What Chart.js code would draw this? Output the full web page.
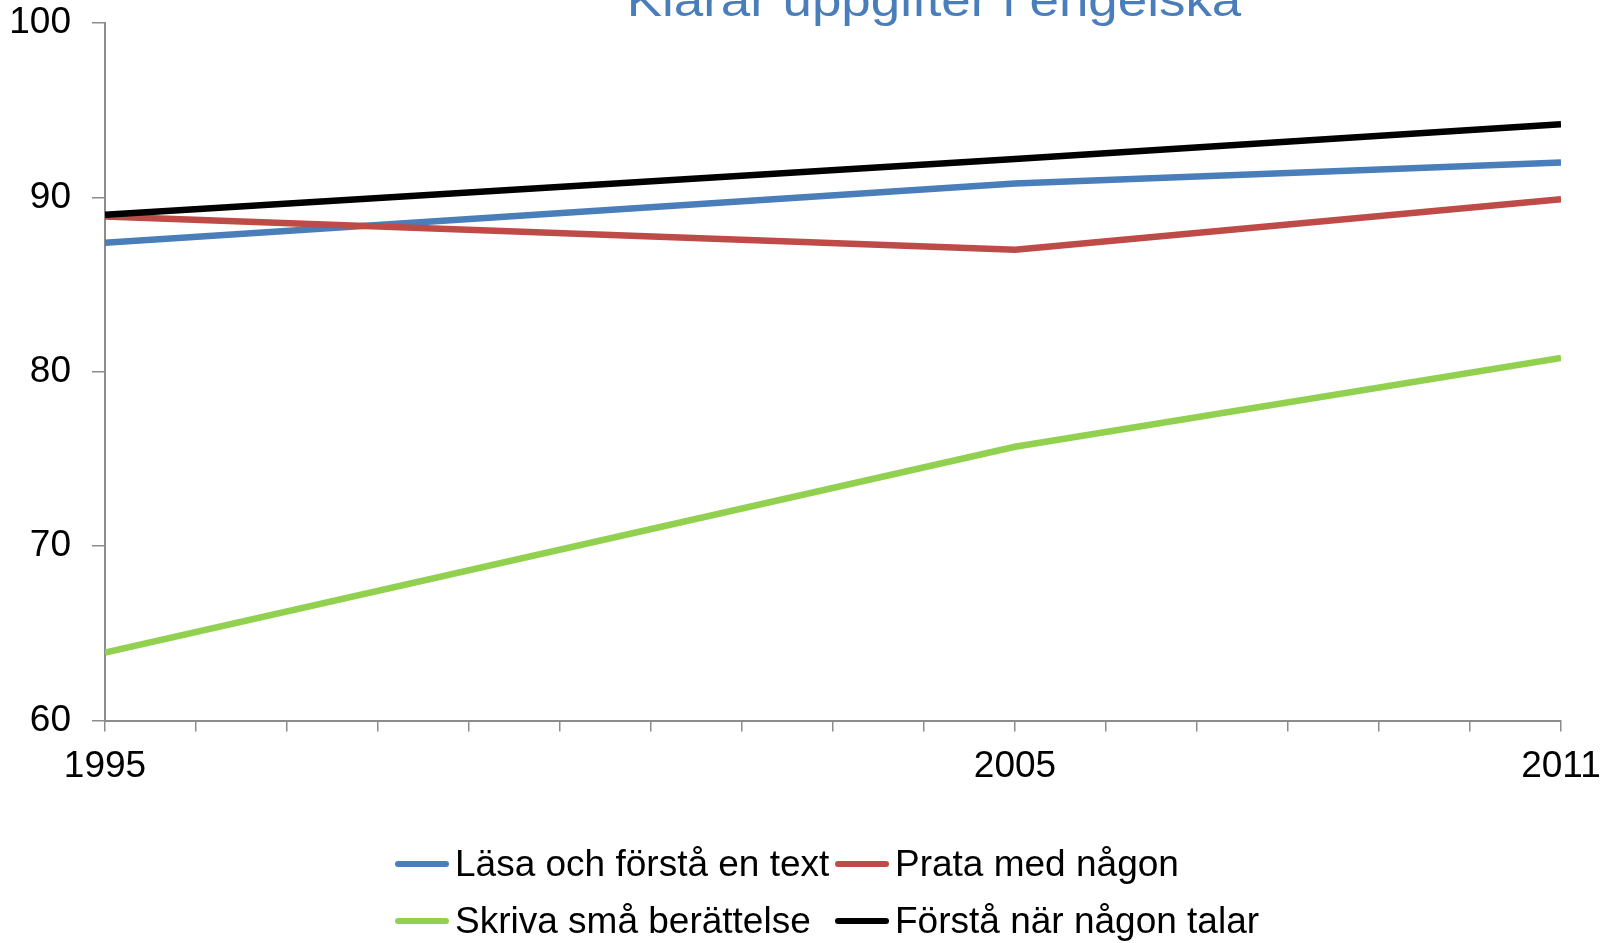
<!DOCTYPE html>
<html>
<head>
<meta charset="utf-8">
<script src="https://cdn.jsdelivr.net/npm/chart.js@4/dist/chart.umd.min.js"></script>
<style>
  html, body { margin: 0; padding: 0; background: #fff; }
  #wrap { position: relative; width: 1608px; height: 943px; overflow: hidden; }
  #legend {
    position: absolute; left: 395px; top: 835px;
    display: grid; grid-template-columns: 440px auto;
    font-family: "Liberation Sans", Arial, sans-serif; font-size: 37px; color: #000;
  }
  #legend .item { display: flex; align-items: center; height: 57px; white-space: nowrap; }
  #legend .swatch { width: 54px; height: 6px; border-radius: 3px; margin-right: 6px; }
</style>
</head>
<body>
<div id="wrap">
  <canvas id="my-chart" width="1608" height="943"></canvas>
  <div id="legend"></div>
</div>
<script>
const titleText = "Klarar uppgifter i engelska"
const years = [1995, 2005, 2011]
const xLabelYears = [1995, 2005, 2011]
const seriesNames = ["Läsa och förstå en text", "Prata med någon", "Skriva små berättelse", "Förstå när någon talar"]
const lasa = [87.4, 90.8, 92.0]
const prata = [88.9, 87.0, 89.9]
const skriva = [63.9, 75.7, 80.8]
const forsta = [89.0, 92.2, 94.2]
const colors = ["#4A7EBB", "#BE4B48", "#92D050", "#000000"]

const fontFamily = '"Liberation Sans", Arial, sans-serif'
const axisGray = '#8c8c8c'

// title sits half off the top edge in the original, drawn by hand
const titlePlugin = {
  id: 'cutTitle',
  afterDraw(chart) {
    const ctx = chart.ctx
    ctx.save()
    ctx.fillStyle = '#4A7EBB'
    ctx.font = '46px ' + fontFamily
    ctx.textAlign = 'center'
    ctx.textBaseline = 'alphabetic'
    ctx.translate(934, 16)
    ctx.scale(1.15, 1)
    ctx.fillText(titleText, 0, 0)
    ctx.restore()
  }
}

// let the layout padding alone decide where the plot area sits
const noOverflow = (scale) => {
  scale.paddingTop = 0
  scale.paddingBottom = 0
  scale.paddingLeft = 0
  scale.paddingRight = 0
}

const allSeries = [lasa, prata, skriva, forsta]
const datasets = allSeries.map((values, i) => ({
  label: seriesNames[i],
  data: values.map((v, j) => ({ x: years[j], y: v })),
  borderColor: colors[i],
  backgroundColor: colors[i],
  borderWidth: 6.5,
  pointRadius: 0,
  borderJoinStyle: 'round',
  tension: 0,
  order: allSeries.length - i
}))

const ctx = document.getElementById('my-chart').getContext('2d')
const chart = new Chart(ctx, {
  type: 'line',
  data: { datasets: datasets },
  plugins: [titlePlugin],
  options: {
    responsive: false,
    animation: false,
    layout: { padding: { left: 0, right: 47, top: 23, bottom: 141 } },
    plugins: {
      legend: { display: false },
      tooltip: { enabled: false }
    },
    scales: {
      x: {
        type: 'linear',
        min: 1995,
        max: 2011,
        afterFit: noOverflow,
        grid: { drawOnChartArea: false, drawTicks: true, tickLength: 11, color: axisGray, lineWidth: 1.5 },
        border: { display: true, color: axisGray, width: 2 },
        ticks: {
          stepSize: 1,
          autoSkip: false,
          maxRotation: 0,
          padding: 13,
          color: '#000',
          font: { family: fontFamily, size: 37 },
          callback: (value) => xLabelYears.includes(value) ? String(value) : ''
        }
      },
      y: {
        min: 60,
        max: 100,
        afterFit: (scale) => { noOverflow(scale); scale.width = 105 },
        grid: { drawOnChartArea: false, drawTicks: true, tickLength: 13, color: axisGray, lineWidth: 1.5 },
        border: { display: true, color: axisGray, width: 2 },
        ticks: {
          stepSize: 10,
          padding: 21,
          color: '#000',
          font: { family: fontFamily, size: 37 }
        }
      }
    }
  }
})

// legend in a fixed two-column grid like the original
const legendEl = document.getElementById('legend')
chart.data.datasets.forEach((ds) => {
  const item = document.createElement('div')
  item.className = 'item'
  const sw = document.createElement('span')
  sw.className = 'swatch'
  sw.style.background = ds.borderColor
  const txt = document.createElement('span')
  txt.textContent = ds.label
  item.appendChild(sw)
  item.appendChild(txt)
  legendEl.appendChild(item)
})
</script>
</body>
</html>
